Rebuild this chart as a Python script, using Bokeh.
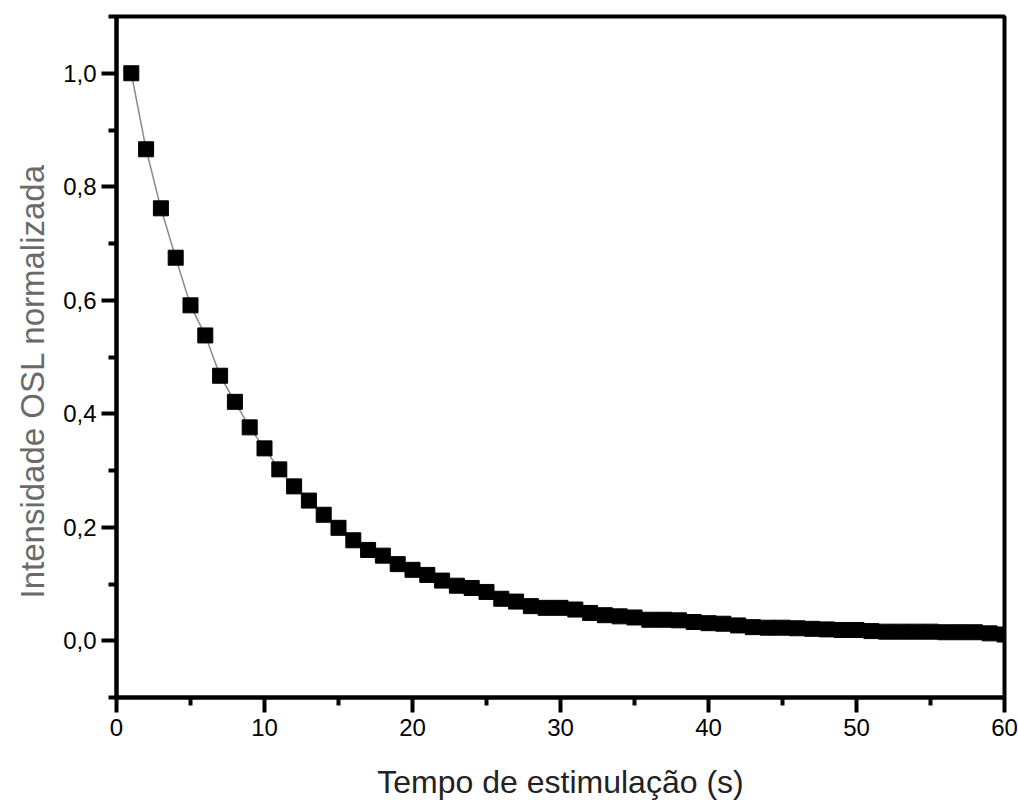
from bokeh.plotting import figure
from bokeh.models import Range1d, FixedTicker, CustomJSTickFormatter, Title
from bokeh.embed import file_html
from bokeh.resources import INLINE

tempo = list(range(1, 61))
intensidade = [
    1.000, 0.866, 0.762, 0.675, 0.591, 0.538, 0.467, 0.421, 0.376, 0.339,
    0.302, 0.272, 0.247, 0.222, 0.199, 0.177, 0.160, 0.150, 0.135, 0.125,
    0.116, 0.106, 0.097, 0.093, 0.086, 0.074, 0.069, 0.061, 0.058, 0.058,
    0.055, 0.049, 0.045, 0.043, 0.041, 0.037, 0.037, 0.036, 0.033, 0.031,
    0.030, 0.027, 0.024, 0.023, 0.023, 0.022, 0.021, 0.020, 0.019, 0.019,
    0.017, 0.016, 0.016, 0.016, 0.016, 0.015, 0.015, 0.015, 0.013, 0.011,
]
x_ticks = [0, 10, 20, 30, 40, 50, 60]
y_ticks = [0.0, 0.2, 0.4, 0.6, 0.8, 1.0]
x_label = "Tempo de estimulação (s)"
y_label = "Intensidade OSL normalizada"

FONT = "Liberation Sans"

p = figure(width=1018, height=802, output_backend="svg", toolbar_location=None,
           x_range=Range1d(0, 60), y_range=Range1d(-0.1, 1.1),
           min_border_left=116, min_border_right=14, min_border_top=16,
           min_border_bottom=105)
p.background_fill_color = "white"
p.border_fill_color = "white"
p.grid.visible = False
p.outline_line_color = "black"
p.outline_line_width = 4

p.line(tempo, intensidade, line_color="#8a8a8a", line_width=1.5)
p.scatter(tempo, intensidade, marker="square", size=15, fill_color="black",
          line_color="black")

xt = FixedTicker(ticks=x_ticks, minor_ticks=[5, 15, 25, 35, 45, 55])
yt = FixedTicker(ticks=y_ticks, minor_ticks=[-0.1, 0.1, 0.3, 0.5, 0.7, 0.9, 1.1])
p.xaxis.ticker = xt
p.yaxis.ticker = yt
p.yaxis.formatter = CustomJSTickFormatter(code="return tick.toFixed(1).replace('.', ',');")
p.xaxis.formatter = CustomJSTickFormatter(code="return tick.toFixed(0);")

for ax in (p.xaxis, p.yaxis):
    ax.axis_line_width = 4
    ax.axis_line_color = "black"
    ax.major_tick_line_width = 4
    ax.minor_tick_line_width = 4
    ax.major_tick_line_color = "black"
    ax.minor_tick_line_color = "black"
    ax.major_tick_in = 0
    ax.minor_tick_in = 0
    ax.major_tick_out = 15
    ax.minor_tick_out = 8
    ax.major_label_text_font = FONT
    ax.major_label_text_font_size = "24px"
    ax.major_label_text_color = "black"
    ax.axis_label_text_font = FONT
    ax.axis_label_text_font_size = "32px"
    ax.axis_label_text_font_style = "normal"

p.xaxis.axis_label = x_label
p.xaxis.axis_label_text_color = "#222222"
p.xaxis.major_label_standoff = 6
p.yaxis.major_label_standoff = 5
p.xaxis.axis_label_standoff = 25

ytitle = Title(text=y_label, align="left", offset=99,
               text_font=FONT, text_font_size="33px", text_font_style="normal",
               text_color="#6a6a6a", standoff=20)
p.add_layout(ytitle, "left")

open("out.html", "w").write(file_html(p, INLINE))
